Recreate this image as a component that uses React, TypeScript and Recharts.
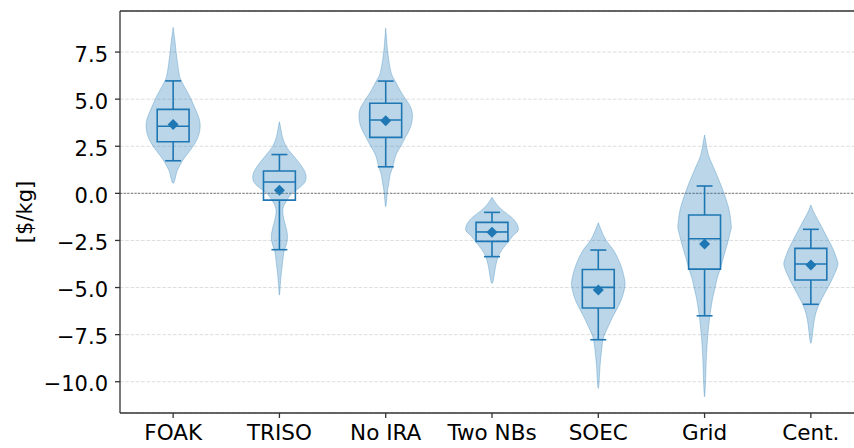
import React from 'react';
import { ScatterChart, Scatter, XAxis, YAxis, CartesianGrid, ReferenceArea, ReferenceLine } from 'recharts';

const categories = ['FOAK', 'TRISO', 'No IRA', 'Two NBs', 'SOEC', 'Grid', 'Cent.'];

// box plot stats [$/kg]
const q1 = [2.74, -0.36, 2.97, -2.55, -6.09, -4.02, -4.6];
const medians = [3.56, 0.6, 3.89, -2.05, -4.99, -2.41, -3.75];
const q3 = [4.46, 1.19, 4.78, -1.54, -4.04, -1.15, -2.92];
const whiskerLow = [1.73, -2.99, 1.41, -3.36, -7.77, -6.5, -5.89];
const whiskerHigh = [5.97, 2.06, 5.96, -1.01, -3.01, 0.39, -1.91];
const means = [3.65, 0.16, 3.85, -2.07, -5.13, -2.69, -3.8];

// violin outlines: levels (top tip -> bottom tip) and half widths in category units
const foakLevels = [8.81, 8.0, 7.5, 6.5, 6.0, 5.5, 5.0, 4.5, 4.0, 3.5, 3.0, 2.5, 2.0, 1.7, 1.3, 1.0, 0.53];
const foakWidths = [0, 0.019, 0.028, 0.052, 0.075, 0.122, 0.169, 0.207, 0.243, 0.254, 0.235, 0.188, 0.122, 0.085, 0.047, 0.028, 0];
const trisoLevels = [3.8, 3.4, 3.0, 2.5, 2.06, 1.6, 1.2, 0.9, 0.6, 0.3, 0.0, -0.36, -0.7, -1.1, -1.6, -2.2, -2.7, -3.0, -3.5, -4.2, -4.8, -5.4];
const trisoWidths = [0, 0.014, 0.028, 0.063, 0.122, 0.188, 0.235, 0.251, 0.24, 0.188, 0.118, 0.071, 0.038, 0.033, 0.052, 0.075, 0.066, 0.047, 0.033, 0.019, 0.009, 0];
const noIraLevels = [8.76, 8.0, 7.5, 6.5, 6.0, 5.5, 5.0, 4.5, 4.0, 3.5, 3.0, 2.5, 2.0, 1.4, 1.0, 0.5, 0.0, -0.71];
const noIraWidths = [0, 0.011, 0.019, 0.047, 0.085, 0.132, 0.188, 0.24, 0.251, 0.232, 0.188, 0.141, 0.094, 0.066, 0.042, 0.028, 0.014, 0];
const twoNbsLevels = [-0.21, -0.6, -1.0, -1.4, -1.9, -2.2, -2.6, -3.0, -3.4, -3.9, -4.4, -4.78];
const twoNbsWidths = [0, 0.047, 0.122, 0.207, 0.249, 0.207, 0.15, 0.094, 0.056, 0.033, 0.019, 0];
const soecLevels = [-1.56, -2.0, -2.5, -3.0, -3.5, -4.0, -4.5, -4.9, -5.5, -6.0, -6.5, -7.0, -7.5, -8.0, -9.0, -9.7, -10.35];
const soecWidths = [0, 0.031, 0.075, 0.141, 0.188, 0.223, 0.245, 0.251, 0.226, 0.188, 0.141, 0.099, 0.059, 0.038, 0.019, 0.011, 0];
const gridLevels = [3.1, 2.5, 2.0, 1.5, 1.0, 0.5, 0.0, -0.5, -1.0, -1.7, -2.0, -2.5, -3.0, -3.5, -4.0, -4.5, -5.0, -5.5, -6.0, -6.5, -7.5, -8.5, -9.5, -10.8];
const gridWidths = [0, 0.019, 0.038, 0.075, 0.113, 0.15, 0.183, 0.212, 0.235, 0.251, 0.245, 0.223, 0.198, 0.172, 0.148, 0.119, 0.099, 0.078, 0.063, 0.05, 0.031, 0.019, 0.012, 0];
const centLevels = [-0.62, -1.0, -1.5, -2.0, -2.5, -3.0, -3.5, -3.8, -4.2, -4.7, -5.2, -5.7, -6.2, -6.7, -7.3, -7.96];
const centWidths = [0, 0.028, 0.075, 0.122, 0.169, 0.212, 0.245, 0.254, 0.229, 0.188, 0.141, 0.094, 0.055, 0.033, 0.019, 0];

const violinLevels = [foakLevels, trisoLevels, noIraLevels, twoNbsLevels, soecLevels, gridLevels, centLevels];
const violinWidths = [foakWidths, trisoWidths, noIraWidths, twoNbsWidths, soecWidths, gridWidths, centWidths];

const yTicks = [7.5, 5, 2.5, 0, -2.5, -5, -7.5, -10];
const Y_MIN = -11.66;
const Y_MAX = 9.68;

const BLUE = '#1f77b4';
const FONT = '"DejaVu Sans", sans-serif';
const xTicks = categories.map((_, i) => i + 1);

// closed outline: right side down, left side back up
function violinOutline(i: number) {
    const pos = i + 1;
    const levels = violinLevels[i];
    const w = violinWidths[i];
    const right = levels.map((y, k) => ({ x: pos + w[k], y }));
    const left = levels.slice(1, -1).map((y, k) => ({ x: pos - w[k + 1], y })).reverse();
    return [...right, ...left, right[0]];
}

const meanPoints = means.map((m, i) => ({ x: i + 1, y: m }));

const fmtY = (v: number) => v.toFixed(1).replace('-', '\u2212');

const Diamond = (p: any) => {
    const { cx, cy } = p;
    const r = 5.5;
    return <path d={`M${cx},${cy - r}L${cx + r},${cy}L${cx},${cy + r}L${cx - r},${cy}Z`} fill={BLUE} />;
};

const YLabel = (props: any) => {
    const vb = props.viewBox;
    const cx = vb.x + 25;
    const cy = vb.y + vb.height / 2;
    return (
        <text x={cx} y={cy} transform={`rotate(-90 ${cx} ${cy})`} textAnchor="middle" dominantBaseline="central"
            fontSize={21} fontFamily={FONT} fill="#000">
            [$/kg]
        </text>
    );
};

export default function App() {
    return (
        <div style={{ position: 'absolute', left: 0, top: 0, width: 854, height: 448, overflow: 'hidden', background: '#fff', fontFamily: FONT }}>
            <ScatterChart width={880} height={448} margin={{ top: 11, right: 16, bottom: 0, left: 0 }}>
                <CartesianGrid vertical={false} stroke="#d4d4d4" strokeDasharray="3.5 1.8" strokeWidth={0.8} />
                <XAxis
                    type="number"
                    dataKey="x"
                    domain={[0.5, 7.5]}
                    ticks={xTicks}
                    interval={0}
                    allowDataOverflow
                    tickFormatter={(v: number) => categories[v - 1]}
                    height={35}
                    tickSize={5}
                    tickMargin={7}
                    stroke="#333"
                    strokeWidth={1.3}
                    tick={{ fill: '#000', fontSize: 21.5, fontFamily: FONT }}
                />
                <YAxis
                    type="number"
                    dataKey="y"
                    domain={[Y_MIN, Y_MAX]}
                    ticks={yTicks}
                    interval={0}
                    allowDataOverflow
                    tickFormatter={fmtY}
                    width={120}
                    tickSize={5}
                    tickMargin={7}
                    stroke="#333"
                    strokeWidth={1.3}
                    tick={{ fill: '#000', fontSize: 21, fontFamily: FONT, dy: 2 }}
                    label={{ content: YLabel }}
                />
                <ReferenceLine y={0} stroke="#8c8c8c" strokeDasharray="2.2 1.4" strokeWidth={1.2} />
                {categories.map((c, i) => (
                    <Scatter
                        key={'violin-' + c}
                        data={violinOutline(i)}
                        line={{ fill: BLUE, fillOpacity: 0.3, stroke: BLUE, strokeOpacity: 0.3, strokeWidth: 1 }}
                        lineType="joint"
                        lineJointType="natural"
                        shape={() => <g />}
                        legendType="none"
                        isAnimationActive={false}
                    />
                ))}
                {categories.map((c, i) => (
                    <ReferenceArea key={'box-' + c} x1={i + 1 - 0.15} x2={i + 1 + 0.15} y1={q1[i]} y2={q3[i]}
                        fill="none" fillOpacity={0} stroke={BLUE} strokeWidth={1.6} ifOverflow="visible" />
                ))}
                {categories.map((c, i) => (
                    <ReferenceLine key={'med-' + c} segment={[{ x: i + 1 - 0.15, y: medians[i] }, { x: i + 1 + 0.15, y: medians[i] }]}
                        stroke={BLUE} strokeWidth={1.6} ifOverflow="visible" />
                ))}
                {categories.map((c, i) => (
                    <ReferenceLine key={'wh-' + c} segment={[{ x: i + 1, y: q3[i] }, { x: i + 1, y: whiskerHigh[i] }]}
                        stroke={BLUE} strokeWidth={1.6} ifOverflow="visible" />
                ))}
                {categories.map((c, i) => (
                    <ReferenceLine key={'wl-' + c} segment={[{ x: i + 1, y: q1[i] }, { x: i + 1, y: whiskerLow[i] }]}
                        stroke={BLUE} strokeWidth={1.6} ifOverflow="visible" />
                ))}
                {categories.map((c, i) => (
                    <ReferenceLine key={'ch-' + c} segment={[{ x: i + 1 - 0.075, y: whiskerHigh[i] }, { x: i + 1 + 0.075, y: whiskerHigh[i] }]}
                        stroke={BLUE} strokeWidth={1.6} ifOverflow="visible" />
                ))}
                {categories.map((c, i) => (
                    <ReferenceLine key={'cl-' + c} segment={[{ x: i + 1 - 0.075, y: whiskerLow[i] }, { x: i + 1 + 0.075, y: whiskerLow[i] }]}
                        stroke={BLUE} strokeWidth={1.6} ifOverflow="visible" />
                ))}
                <Scatter data={meanPoints} shape={Diamond} legendType="none" isAnimationActive={false} />
                <ReferenceLine y={Y_MAX} stroke="#333" strokeWidth={1.3} ifOverflow="visible" />
            </ScatterChart>
        </div>
    );
}
